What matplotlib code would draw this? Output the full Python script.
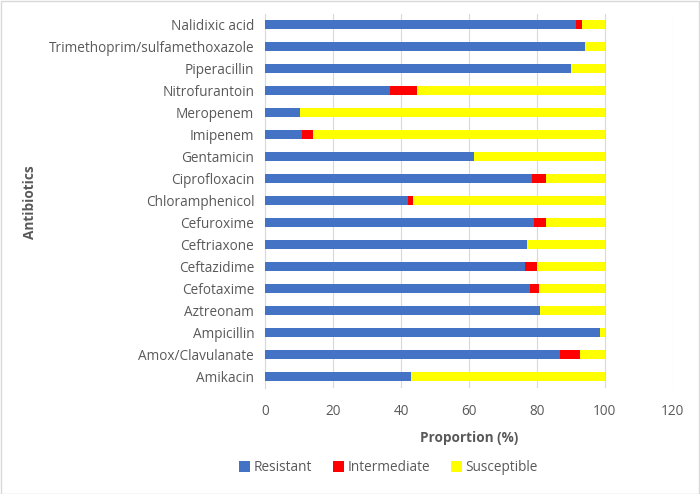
import matplotlib
matplotlib.use("Agg")
import matplotlib.pyplot as plt
import numpy as np

antibiotics = ["Amikacin", "Amox/Clavulanate", "Ampicillin", "Aztreonam", "Cefotaxime",
               "Ceftazidime", "Ceftriaxone", "Cefuroxime", "Chloramphenicol", "Ciprofloxacin",
               "Gentamicin", "Imipenem", "Meropenem", "Nitrofurantoin", "Piperacillin",
               "Trimethoprim/sulfamethoxazole", "Nalidixic acid"]
resistant = [42.8, 86.8, 98.6, 81.0, 78.0, 76.6, 77.2, 79.0, 42.0, 78.6,
             61.6, 10.8, 10.1, 36.6, 90.1, 94.3, 91.6]
intermediate = [0.0, 5.9, 0.0, 0.0, 2.6, 3.4, 0.0, 3.7, 1.4, 4.2,
                0.0, 3.2, 0.0, 8.2, 0.0, 0.0, 1.7]
susceptible = [100 - r - i for r, i in zip(resistant, intermediate)]

plt.rcParams['font.family'] = ['Open Sans', 'DejaVu Sans']
fig = plt.figure(figsize=(7, 4.94), dpi=100)
ax = fig.add_axes([0.379, 0.215, 0.582, 0.757])

y = np.arange(len(antibiotics))
h = 0.42
ax.barh(y, resistant, height=h, color="#4472C4", label="Resistant", zorder=3)
ax.barh(y, intermediate, left=resistant, height=h, color="#FF0000", label="Intermediate", zorder=3)
left2 = [r + i for r, i in zip(resistant, intermediate)]
ax.barh(y, susceptible, left=left2, height=h, color="#FFFF00", label="Susceptible", zorder=3)

ax.set_xlim(0, 120)
ax.set_ylim(-0.5, len(antibiotics) - 0.5)
ax.set_xticks(range(0, 121, 20))
ax.set_yticks(y)
ax.set_yticklabels(antibiotics)
ax.grid(axis="x", color="#D9D9D9", linewidth=0.8, zorder=0)
for s in ["top", "right", "bottom"]:
    ax.spines[s].set_visible(False)
ax.spines["left"].set_color("#D9D9D9")
ax.tick_params(axis="both", length=0, labelsize=9.8, labelcolor="#595959")
ax.tick_params(axis="x", pad=12)
ax.tick_params(axis="y", pad=8)

ax.set_xlabel("Proportion (%)", fontsize=9.8, fontweight="bold", color="#595959", labelpad=8)
fig.text(0.043, 0.59, "Antibiotics", rotation=90, fontsize=9.8, fontweight="bold",
         color="#595959", ha="center", va="center")

leg = fig.legend(loc="center", bbox_to_anchor=(0.555, 0.053), ncol=3, frameon=False,
                 fontsize=9.8, handlelength=0.8, handleheight=0.8, handletextpad=0.3,
                 columnspacing=1.5)
for t in leg.get_texts():
    t.set_color("#595959")

fig.patches.append(plt.Rectangle((0.001, 0.001), 0.997, 0.997, transform=fig.transFigure,
                                 fill=False, edgecolor="#D9D9D9", linewidth=1))
fig.savefig("out.png", dpi=100)
